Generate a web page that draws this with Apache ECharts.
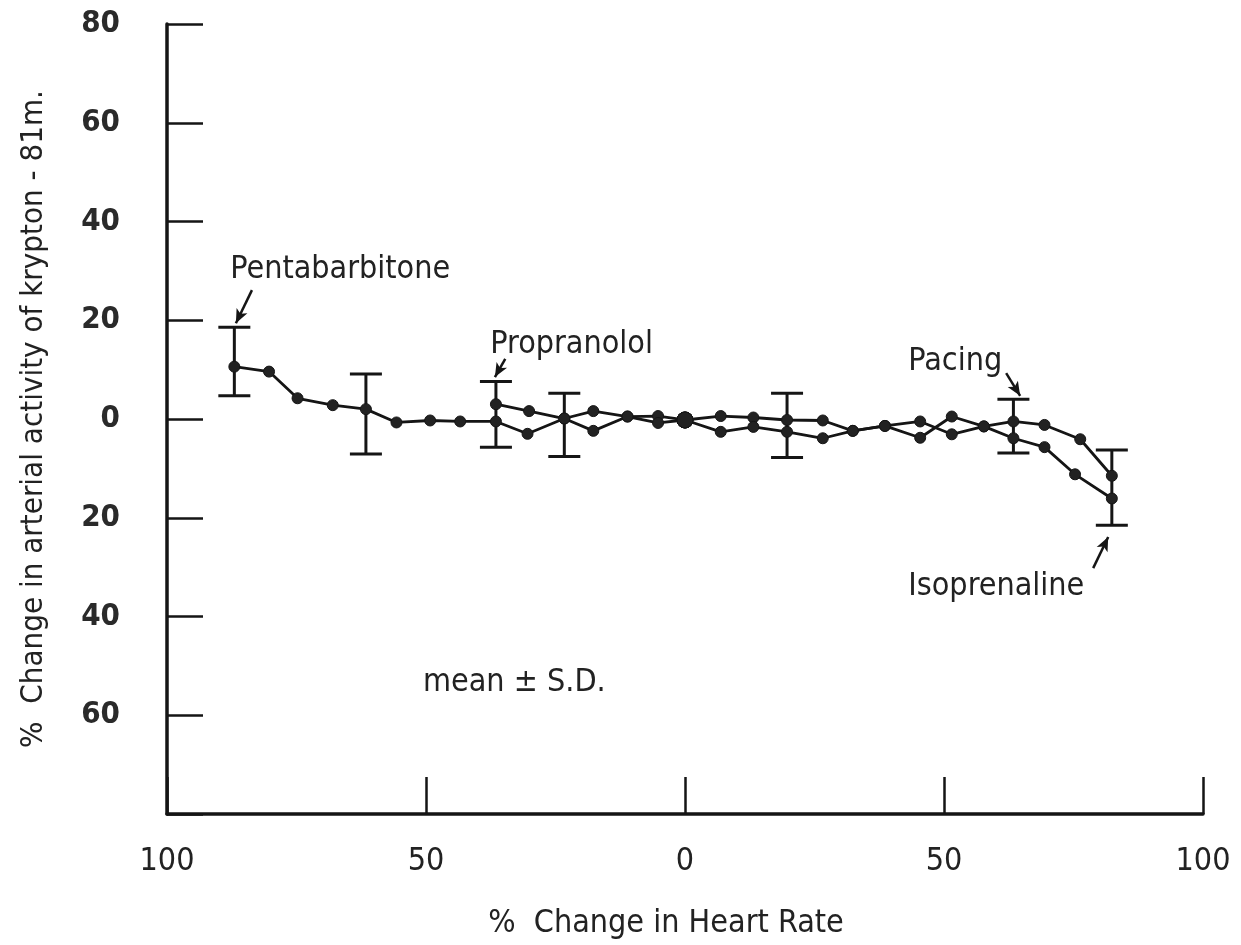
<!DOCTYPE html>
<html>
<head>
<meta charset="utf-8">
<script src="https://cdn.jsdelivr.net/npm/echarts@6/dist/echarts.min.js"></script>
<style>
html,body{margin:0;padding:0;background:#fff;}
#chart{width:1241px;height:945px;}
</style>
</head>
<body>
<div id="chart"></div>
<script>
// ---- data (x: % change in heart rate, y: % change in arterial activity) ----
const pentabarbitone = [
  [-87.0, 10.6], [-80.3, 9.6], [-74.8, 4.2], [-68.0, 2.8], [-61.6, 2.0],
  [-55.7, -0.7], [-49.2, -0.3], [-43.4, -0.5], [-36.5, -0.5], [-30.4, -3.0],
  [-23.3, 0.1], [-17.7, 1.6], [-11.1, 0.5], [-5.2, 0.6], [0, -0.2]
];
const propranolol = [
  [-36.5, 3.0], [-30.1, 1.6], [-23.3, 0.1], [-17.7, -2.4], [-11.1, 0.5],
  [-5.2, -0.8], [0, -0.2]
];
const pacing = [
  [0, -0.2], [6.9, 0.6], [13.2, 0.3], [19.7, -0.2], [26.6, -0.3], [32.4, -2.4],
  [38.6, -1.4], [45.4, -0.5], [51.5, -3.1], [57.7, -1.5], [63.4, -0.5],
  [69.4, -1.2], [76.3, -4.1], [82.4, -11.5]
];
const isoprenaline = [
  [0, -0.2], [6.9, -2.6], [13.2, -1.6], [19.7, -2.6], [26.6, -3.9], [32.4, -2.4],
  [38.6, -1.4], [45.4, -3.8], [51.5, 0.5], [57.7, -1.5], [63.4, -3.9],
  [69.4, -5.7], [75.3, -11.2], [82.4, -16.1]
];
// error bars: [x, low, high]
const errorBars = [
  [-87.0, 4.7, 18.6], [-61.6, -7.1, 9.1], [-36.5, -5.7, 7.6], [-23.3, -7.6, 5.2],
  [19.7, -7.8, 5.2], [63.4, -6.9, 4.0], [82.4, -21.5, -6.3]
];
// axis ticks
const xTicks = [-100, -50, 0, 50, 100];
const yTicks = [-80, -60, -40, -20, 0, 20, 40, 60, 80];
// annotations (data coordinates)
const labels = [
  ['Pentabarbitone', -87.8, 29.8],
  ['Propranolol', -37.6, 14.6],
  ['Pacing', 43.1, 11.2],
  ['Isoprenaline', 43.1, -34.4],
  ['mean \u00b1 S.D.', -50.6, -53.8]
];
const arrows = [
  [-83.6, 26.1, -86.7, 19.4],
  [-34.7, 12.2, -36.7, 8.5],
  [62.0, 9.3, 64.7, 4.7],
  [78.8, -30.2, 81.7, -23.9]
];

const INK = '#151515';
const NARROW = "'Liberation Sans Narrow', 'DejaVu Sans Condensed', 'Roboto Condensed', sans-serif";

const chart = echarts.init(document.getElementById('chart'), null, {renderer: 'canvas'});

function lineSeries(name, data, withArrows) {
  const s = {
    name: name, type: 'line', data: data,
    symbol: 'circle',
    symbolSize: function (v) { return v[0] === 0 ? 16 : 11; },
    lineStyle: {color: INK, width: 2.8},
    itemStyle: {color: '#222', borderColor: INK, borderWidth: 1},
    z: 3, animation: false
  };
  if (withArrows) {
    s.markLine = {
      silent: true, animation: false,
      symbol: ['none', 'arrow'], symbolSize: [9, 14],
      label: {show: false},
      lineStyle: {color: INK, width: 2.5, type: 'solid'},
      data: arrows.map(a => [{coord: [a[0], a[1]]}, {coord: [a[2], a[3]]}])
    };
  }
  return s;
}

const option = {
  backgroundColor: '#fff',
  animation: false,
  grid: {left: 167, right: 38, top: 24, bottom: 131, containLabel: false},
  xAxis: {
    type: 'value', min: xTicks[0], max: xTicks[xTicks.length - 1], interval: 50,
    name: '%  Change in Heart Rate', nameLocation: 'middle', nameGap: 94,
    nameTextStyle: {fontFamily: NARROW, fontSize: 32, color: '#222', padding: [0, 38, 0, 0]},
    axisLine: {onZero: false, lineStyle: {color: INK, width: 3.5}},
    axisTick: {inside: true, length: 37, lineStyle: {color: INK, width: 2.5}},
    axisLabel: {
      margin: 32, fontFamily: NARROW, fontSize: 32, color: '#222',
      formatter: v => String(Math.abs(v))
    },
    splitLine: {show: false}
  },
  yAxis: {
    type: 'value', min: yTicks[0], max: yTicks[yTicks.length - 1], interval: 20,
    name: '%  Change in arterial activity of krypton - 81m.', nameLocation: 'middle',
    nameRotate: 90, nameGap: 118,
    nameTextStyle: {fontFamily: NARROW, fontSize: 31, color: '#222'},
    axisLine: {onZero: false, lineStyle: {color: INK, width: 3.5}},
    axisTick: {inside: true, length: 36, lineStyle: {color: INK, width: 2.5}},
    axisLabel: {
      margin: 47, fontFamily: NARROW, fontSize: 31,
      fontWeight: 'bold', color: '#2a2a2a',
      formatter: v => (v === yTicks[0] ? '' : String(Math.abs(v)))
    },
    splitLine: {show: false}
  },
  series: [
    lineSeries('Pentabarbitone', pentabarbitone, true),
    lineSeries('Propranolol', propranolol, false),
    lineSeries('Pacing', pacing, false),
    lineSeries('Isoprenaline', isoprenaline, false),
    {
      name: 'SD', type: 'custom', data: errorBars, z: 2, animation: false,
      renderItem: function (params, api) {
        const x = api.value(0);
        const lo = api.coord([x, api.value(1)]);
        const hi = api.coord([x, api.value(2)]);
        const hw = 16;
        const st = {stroke: INK, lineWidth: 3};
        return {
          type: 'group',
          children: [
            {type: 'line', shape: {x1: lo[0], y1: lo[1], x2: hi[0], y2: hi[1]}, style: st},
            {type: 'line', shape: {x1: hi[0] - hw, y1: hi[1], x2: hi[0] + hw, y2: hi[1]}, style: st},
            {type: 'line', shape: {x1: lo[0] - hw, y1: lo[1], x2: lo[0] + hw, y2: lo[1]}, style: st}
          ]
        };
      }
    }
  ]
};
chart.setOption(option);

const graphics = labels.map(function (l) {
  const p = chart.convertToPixel({gridIndex: 0}, [l[1], l[2]]);
  return {
    type: 'text', left: p[0], top: p[1] - 18, silent: true,
    style: {
      text: l[0], fill: '#222', font: '32px ' + NARROW,
      textVerticalAlign: 'top'
    }
  };
});
chart.setOption({graphic: graphics});
</script>
</body>
</html>
